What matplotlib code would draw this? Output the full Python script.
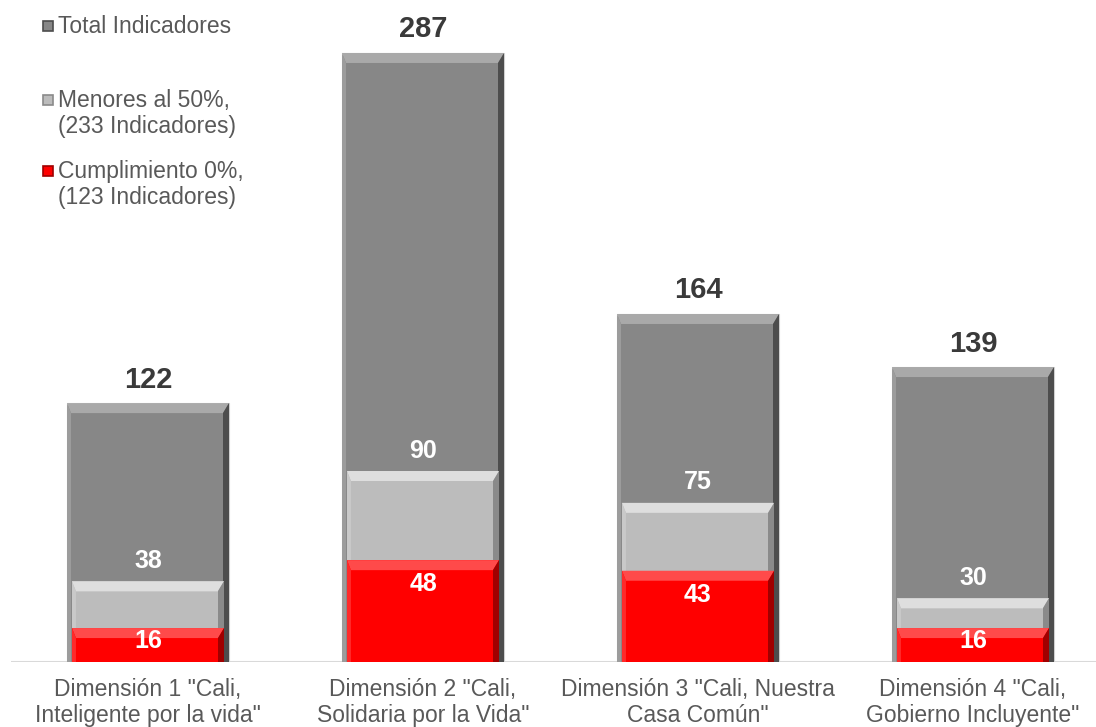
import matplotlib
matplotlib.use("Agg")
import matplotlib.pyplot as plt
from matplotlib.patches import Polygon, Rectangle
from matplotlib.transforms import IdentityTransform

categories = ['Dimensión 1 "Cali,\nInteligente por la vida"',
              'Dimensión 2 "Cali,\nSolidaria por la Vida"',
              'Dimensión 3 "Cali, Nuestra\nCasa Común"',
              'Dimensión 4 "Cali,\nGobierno Incluyente"']
total = [122, 287, 164, 139]
menores = [38, 90, 75, 30]
cero = [16, 48, 43, 16]
legend_labels = ["Total Indicadores", "Menores al 50%,\n(233 Indicadores)",
                 "Cumplimiento 0%,\n(123 Indicadores)"]

W, H, DPI = 1096, 727, 100
plt.rcParams['font.family'] = ['Liberation Sans', 'DejaVu Sans']
fig = plt.figure(figsize=(W / DPI, H / DPI), dpi=DPI)
fig.patch.set_facecolor('white')

ax_left, ax_bottom = 10.5 / W, (H - 662) / H
ax = fig.add_axes([ax_left, ax_bottom, 1 - ax_left, 1 - ax_bottom])
ax.set_xlim(-0.5, (W - 10.5) / 275 - 0.5)
ax.set_ylim(0, 662 / 2.122)
for s in ax.spines.values():
    s.set_visible(False)
ax.set_xticks([])
ax.set_yticks([])
ax.axhline(0, color='#d9d9d9', lw=1.5, zorder=1)

x = list(range(len(categories)))

styles = {
    'total': dict(fill='#878787', top='#a9a9a9', left='#9c9c9c', right='#4d4d4d', edge='#d0d0d0'),
    'menores': dict(fill='#bcbcbc', top='#dedede', left='#c9c9c9', right='#8a8a8a', edge='#bcbcbc'),
    'cero': dict(fill='#ff0000', top='#ff4a4a', left='#ff2a2a', right='#a00000', edge='#ff0000'),
}


def bevel(bar, st, z, b=10, r=6, l=4):
    bb = bar.get_window_extent(renderer=fig.canvas.get_renderer())
    x0, y0, x1, y1 = bb.x0, bb.y0, bb.x1, bb.y1
    b = min(b, (y1 - y0) * 0.3)
    tr = IdentityTransform()
    top = Polygon([(x0, y1), (x1, y1), (x1 - r, y1 - b), (x0 + l, y1 - b)],
                  closed=True, facecolor=st['top'], edgecolor='none', transform=tr, zorder=z)
    right = Polygon([(x1, y1), (x1, y0), (x1 - r, y0), (x1 - r, y1 - b)],
                    closed=True, facecolor=st['right'], edgecolor='none', transform=tr, zorder=z)
    left = Polygon([(x0, y1), (x0 + l, y1 - b), (x0 + l, y0), (x0, y0)],
                   closed=True, facecolor=st['left'], edgecolor='none', transform=tr, zorder=z)
    for p in (top, right, left):
        ax.add_patch(p)


bt = ax.bar(x, total, width=0.589, color=styles['total']['fill'],
            edgecolor=styles['total']['edge'], linewidth=0.8, zorder=2)
bm = ax.bar(x, menores, width=0.553, color=styles['menores']['fill'], linewidth=0, zorder=3)
bc = ax.bar(x, cero, width=0.553, color=styles['cero']['fill'], linewidth=0, zorder=4)

fig.canvas.draw()
for bar in bt:
    bevel(bar, styles['total'], 2.5)
for bar in bm:
    bevel(bar, styles['menores'], 3.5)
for bar in bc:
    bevel(bar, styles['cero'], 4.5)

pt = 72 / DPI
for xi, v in zip(x, total):
    ax.annotate(str(v), (xi, v), xytext=(0, 23.5 * pt), textcoords='offset points',
                ha='center', va='center', fontsize=21, fontweight='bold', color='#3a3a3a', zorder=6)
for xi, v in zip(x, menores):
    ax.annotate(str(v), (xi, v), xytext=(0, 20.5 * pt), textcoords='offset points',
                ha='center', va='center', fontsize=18, fontweight='bold', color='white', zorder=6)
scale = 2.122
for xi, v in zip(x, cero):
    off = min(24, v * scale - 21)
    ax.annotate(str(v), (xi, v), xytext=(0, -off * pt), textcoords='offset points',
                ha='center', va='center', fontsize=18, fontweight='bold', color='white', zorder=6)

for xi, lab in zip(x, categories):
    ax.annotate(lab, (xi, 0), xytext=(0, -16 * pt), textcoords='offset points',
                ha='center', va='top', fontsize=16.5, color='#595959',
                linespacing=1.16, annotation_clip=False)

# legend
leg_fills = [styles['total'], styles['menores'], styles['cero']]
leg_y = [26, 100, 171]
for st, yc, lab in zip(leg_fills, leg_y, legend_labels):
    sq = Rectangle((43 / W, 1 - (yc + 5) / H), 10 / W, 10 / H, transform=fig.transFigure,
                   facecolor=st['fill'], edgecolor=st['right'], linewidth=1.2)
    fig.patches.append(sq)
    fig.text(58 / W, 1 - (yc - 11) / H, lab, ha='left', va='top', fontsize=16.5,
             color='#595959', linespacing=1.16)

fig.savefig('out.png', dpi=DPI, facecolor='white')
